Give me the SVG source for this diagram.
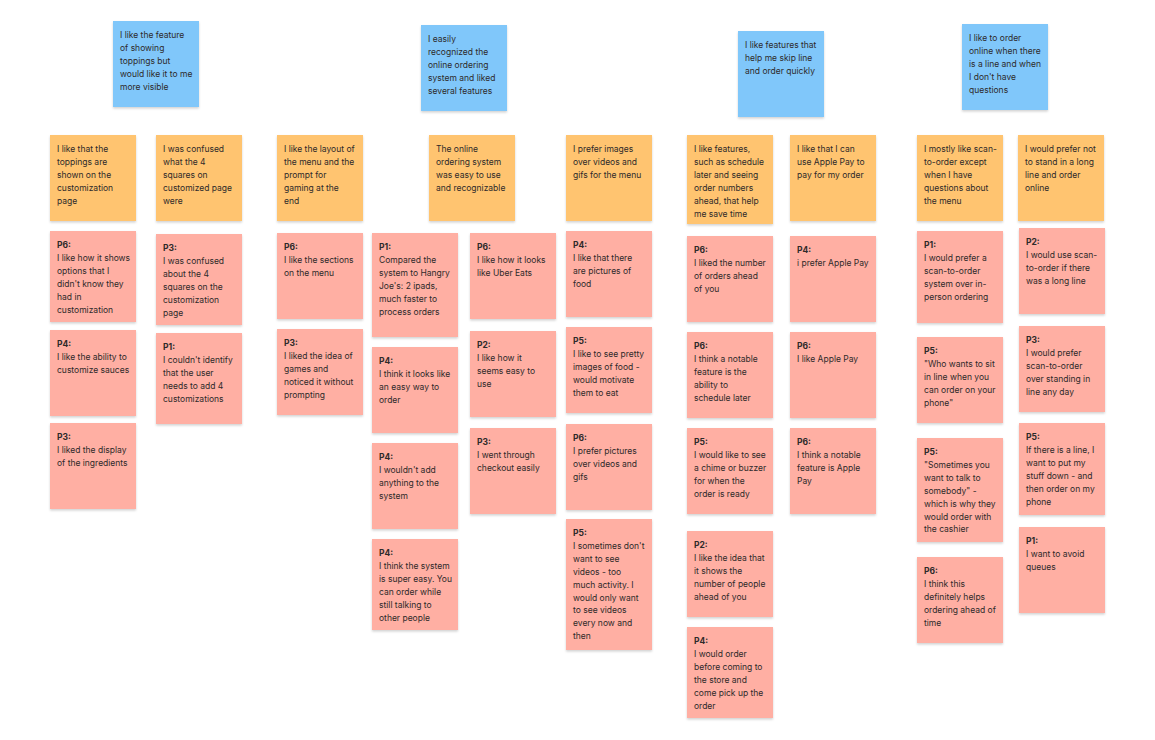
<svg xmlns="http://www.w3.org/2000/svg" width="1155" height="740" viewBox="0 0 1155 740">
<defs>
<filter id="sh" x="-10%" y="-10%" width="120%" height="125%">
<feDropShadow dx="0" dy="1.5" stdDeviation="1.2" flood-color="#000" flood-opacity="0.18"/>
</filter>
<style>
.n{filter:url(#sh)}
.blue{fill:#80C7FA}
.org{fill:#FFC470}
.pink{fill:#FFAFA3}
text{font-family:Inter,"Noto Sans","Liberation Sans",sans-serif;font-size:8.5px;fill:#2E2A2A}
.b{font-weight:700}
</style>
</defs>
<rect width="1155" height="740" fill="#FFFFFF"/>
<g id="connectors"></g>

<!-- Blue headers -->
<g id="b1"><rect class="n blue" x="113" y="21" width="86" height="86"/><text x="120" y="38"><tspan x="120">I like the feature</tspan><tspan x="120" dy="12.9">of showing</tspan><tspan x="120" dy="12.9">toppings but</tspan><tspan x="120" dy="12.9">would like it to me</tspan><tspan x="120" dy="12.9">more visible</tspan></text></g>
<g id="b2"><rect class="n blue" x="421" y="25" width="86" height="86"/><text x="428" y="42"><tspan x="428">I easily</tspan><tspan x="428" dy="12.9">recognized the</tspan><tspan x="428" dy="12.9">online ordering</tspan><tspan x="428" dy="12.9">system and liked</tspan><tspan x="428" dy="12.9">several features</tspan></text></g>
<g id="b3"><rect class="n blue" x="738" y="31" width="86" height="86"/><text x="745" y="48"><tspan x="745">I like features that</tspan><tspan x="745" dy="12.9">help me skip line</tspan><tspan x="745" dy="12.9">and order quickly</tspan></text></g>
<g id="b4"><rect class="n blue" x="962" y="24" width="86" height="86"/><text x="969" y="41"><tspan x="969">I like to order</tspan><tspan x="969" dy="12.9">online when there</tspan><tspan x="969" dy="12.9">is a line and when</tspan><tspan x="969" dy="12.9">I don't have</tspan><tspan x="969" dy="12.9">questions</tspan></text></g>

<!-- Orange row -->
<g id="o1"><rect class="n org" x="50" y="135" width="86" height="86"/><text y="152"><tspan x="57">I like that the</tspan><tspan x="57" dy="12.9">toppings are</tspan><tspan x="57" dy="12.9">shown on the</tspan><tspan x="57" dy="12.9">customization</tspan><tspan x="57" dy="12.9">page</tspan></text></g>
<g id="o2"><rect class="n org" x="156" y="135" width="86" height="86"/><text y="152"><tspan x="163">I was confused</tspan><tspan x="163" dy="12.9">what the 4</tspan><tspan x="163" dy="12.9">squares on</tspan><tspan x="163" dy="12.9">customized page</tspan><tspan x="163" dy="12.9">were</tspan></text></g>
<g id="o3"><rect class="n org" x="277" y="135" width="86" height="86"/><text y="152"><tspan x="284">I like the layout of</tspan><tspan x="284" dy="12.9">the menu and the</tspan><tspan x="284" dy="12.9">prompt for</tspan><tspan x="284" dy="12.9">gaming at the</tspan><tspan x="284" dy="12.9">end</tspan></text></g>
<g id="o4"><rect class="n org" x="429" y="135" width="86" height="86"/><text y="152"><tspan x="436">The online</tspan><tspan x="436" dy="12.9">ordering system</tspan><tspan x="436" dy="12.9">was easy to use</tspan><tspan x="436" dy="12.9">and recognizable</tspan></text></g>
<g id="o5"><rect class="n org" x="566" y="135" width="86" height="86"/><text y="152"><tspan x="573">I prefer images</tspan><tspan x="573" dy="12.9">over videos and</tspan><tspan x="573" dy="12.9">gifs for the menu</tspan></text></g>
<g id="o6"><rect class="n org" x="687" y="135" width="86" height="89"/><text y="152"><tspan x="694">I like features,</tspan><tspan x="694" dy="12.9">such as schedule</tspan><tspan x="694" dy="12.9">later and seeing</tspan><tspan x="694" dy="12.9">order numbers</tspan><tspan x="694" dy="12.9">ahead, that help</tspan><tspan x="694" dy="12.9">me save time</tspan></text></g>
<g id="o7"><rect class="n org" x="790" y="135" width="86" height="86"/><text y="152"><tspan x="797">I like that I can</tspan><tspan x="797" dy="12.9">use Apple Pay to</tspan><tspan x="797" dy="12.9">pay for my order</tspan></text></g>
<g id="o8"><rect class="n org" x="917" y="135" width="86" height="86"/><text y="152"><tspan x="924">I mostly like scan-</tspan><tspan x="924" dy="12.9">to-order except</tspan><tspan x="924" dy="12.9">when I have</tspan><tspan x="924" dy="12.9">questions about</tspan><tspan x="924" dy="12.9">the menu</tspan></text></g>
<g id="o9"><rect class="n org" x="1018" y="135" width="86" height="86"/><text y="152"><tspan x="1025">I would prefer not</tspan><tspan x="1025" dy="12.9">to stand in a long</tspan><tspan x="1025" dy="12.9">line and order</tspan><tspan x="1025" dy="12.9">online</tspan></text></g>

<!-- Column 1 -->
<g id="p1a"><rect class="n pink" x="50" y="231" width="86" height="91"/><text y="248"><tspan x="57" class="b">P6:</tspan><tspan x="57" dy="12.9">I like how it shows</tspan><tspan x="57" dy="12.9">options that I</tspan><tspan x="57" dy="12.9">didn't know they</tspan><tspan x="57" dy="12.9">had in</tspan><tspan x="57" dy="12.9">customization</tspan></text></g>
<g id="p1b"><rect class="n pink" x="50" y="330" width="86" height="86"/><text y="347"><tspan x="57" class="b">P4:</tspan><tspan x="57" dy="12.9">I like the ability to</tspan><tspan x="57" dy="12.9">customize sauces</tspan></text></g>
<g id="p1c"><rect class="n pink" x="50" y="423" width="86" height="86"/><text y="440"><tspan x="57" class="b">P3:</tspan><tspan x="57" dy="12.9">I liked the display</tspan><tspan x="57" dy="12.9">of the ingredients</tspan></text></g>

<!-- Column 2 -->
<g id="p2a"><rect class="n pink" x="156" y="234" width="86" height="91"/><text y="251"><tspan x="163" class="b">P3:</tspan><tspan x="163" dy="12.9">I was confused</tspan><tspan x="163" dy="12.9">about the 4</tspan><tspan x="163" dy="12.9">squares on the</tspan><tspan x="163" dy="12.9">customization</tspan><tspan x="163" dy="12.9">page</tspan></text></g>
<g id="p2b"><rect class="n pink" x="156" y="333" width="86" height="91"/><text y="350"><tspan x="163" class="b">P1:</tspan><tspan x="163" dy="12.9">I couldn't identify</tspan><tspan x="163" dy="12.9">that the user</tspan><tspan x="163" dy="12.9">needs to add 4</tspan><tspan x="163" dy="12.9">customizations</tspan></text></g>

<!-- Column 3 -->
<g id="p3a"><rect class="n pink" x="277" y="233" width="86" height="86"/><text y="250"><tspan x="284" class="b">P6:</tspan><tspan x="284" dy="12.9">I like the sections</tspan><tspan x="284" dy="12.9">on the menu</tspan></text></g>
<g id="p3b"><rect class="n pink" x="277" y="329" width="86" height="86"/><text y="346"><tspan x="284" class="b">P3:</tspan><tspan x="284" dy="12.9">I liked the idea of</tspan><tspan x="284" dy="12.9">games and</tspan><tspan x="284" dy="12.9">noticed it without</tspan><tspan x="284" dy="12.9">prompting</tspan></text></g>

<!-- Column 4 -->
<g id="p4a"><rect class="n pink" x="372" y="233" width="86" height="104"/><text y="250"><tspan x="379" class="b">P1:</tspan><tspan x="379" dy="12.9">Compared the</tspan><tspan x="379" dy="12.9">system to Hangry</tspan><tspan x="379" dy="12.9">Joe's: 2 ipads,</tspan><tspan x="379" dy="12.9">much faster to</tspan><tspan x="379" dy="12.9">process orders</tspan></text></g>
<g id="p4b"><rect class="n pink" x="372" y="347" width="86" height="86"/><text y="364"><tspan x="379" class="b">P4:</tspan><tspan x="379" dy="12.9">I think it looks like</tspan><tspan x="379" dy="12.9">an easy way to</tspan><tspan x="379" dy="12.9">order</tspan></text></g>
<g id="p4c"><rect class="n pink" x="372" y="443" width="86" height="86"/><text y="460"><tspan x="379" class="b">P4:</tspan><tspan x="379" dy="12.9">I wouldn't add</tspan><tspan x="379" dy="12.9">anything to the</tspan><tspan x="379" dy="12.9">system</tspan></text></g>
<g id="p4d"><rect class="n pink" x="372" y="539" width="86" height="91"/><text y="556"><tspan x="379" class="b">P4:</tspan><tspan x="379" dy="12.9">I think the system</tspan><tspan x="379" dy="12.9">is super easy. You</tspan><tspan x="379" dy="12.9">can order while</tspan><tspan x="379" dy="12.9">still talking to</tspan><tspan x="379" dy="12.9">other people</tspan></text></g>

<!-- Column 5 -->
<g id="p5a"><rect class="n pink" x="470" y="233" width="86" height="86"/><text y="250"><tspan x="477" class="b">P6:</tspan><tspan x="477" dy="12.9">I like how it looks</tspan><tspan x="477" dy="12.9">like Uber Eats</tspan></text></g>
<g id="p5b"><rect class="n pink" x="470" y="331" width="86" height="86"/><text y="348"><tspan x="477" class="b">P2:</tspan><tspan x="477" dy="12.9">I like how it</tspan><tspan x="477" dy="12.9">seems easy to</tspan><tspan x="477" dy="12.9">use</tspan></text></g>
<g id="p5c"><rect class="n pink" x="470" y="428" width="86" height="86"/><text y="445"><tspan x="477" class="b">P3:</tspan><tspan x="477" dy="12.9">I went through</tspan><tspan x="477" dy="12.9">checkout easily</tspan></text></g>

<!-- Column 6 -->
<g id="p6a"><rect class="n pink" x="566" y="231" width="86" height="86"/><text y="248"><tspan x="573" class="b">P4:</tspan><tspan x="573" dy="12.9">I like that there</tspan><tspan x="573" dy="12.9">are pictures of</tspan><tspan x="573" dy="12.9">food</tspan></text></g>
<g id="p6b"><rect class="n pink" x="566" y="327" width="86" height="86"/><text y="344"><tspan x="573" class="b">P5:</tspan><tspan x="573" dy="12.9">I like to see pretty</tspan><tspan x="573" dy="12.9">images of food -</tspan><tspan x="573" dy="12.9">would motivate</tspan><tspan x="573" dy="12.9">them to eat</tspan></text></g>
<g id="p6c"><rect class="n pink" x="566" y="424" width="86" height="86"/><text y="441"><tspan x="573" class="b">P6:</tspan><tspan x="573" dy="12.9">I prefer pictures</tspan><tspan x="573" dy="12.9">over videos and</tspan><tspan x="573" dy="12.9">gifs</tspan></text></g>
<g id="p6d"><rect class="n pink" x="566" y="519" width="86" height="131"/><text y="536"><tspan x="573" class="b">P5:</tspan><tspan x="573" dy="12.9">I sometimes don't</tspan><tspan x="573" dy="12.9">want to see</tspan><tspan x="573" dy="12.9">videos - too</tspan><tspan x="573" dy="12.9">much activity. I</tspan><tspan x="573" dy="12.9">would only want</tspan><tspan x="573" dy="12.9">to see videos</tspan><tspan x="573" dy="12.9">every now and</tspan><tspan x="573" dy="12.9">then</tspan></text></g>

<!-- Column 7 -->
<g id="p7a"><rect class="n pink" x="687" y="236" width="86" height="86"/><text y="253"><tspan x="694" class="b">P6:</tspan><tspan x="694" dy="12.9">I liked the number</tspan><tspan x="694" dy="12.9">of orders ahead</tspan><tspan x="694" dy="12.9">of you</tspan></text></g>
<g id="p7b"><rect class="n pink" x="687" y="332" width="86" height="86"/><text y="349"><tspan x="694" class="b">P6:</tspan><tspan x="694" dy="12.9">I think a notable</tspan><tspan x="694" dy="12.9">feature is the</tspan><tspan x="694" dy="12.9">ability to</tspan><tspan x="694" dy="12.9">schedule later</tspan></text></g>
<g id="p7c"><rect class="n pink" x="687" y="428" width="86" height="86"/><text y="445"><tspan x="694" class="b">P5:</tspan><tspan x="694" dy="12.9">I would like to see</tspan><tspan x="694" dy="12.9">a chime or buzzer</tspan><tspan x="694" dy="12.9">for when the</tspan><tspan x="694" dy="12.9">order is ready</tspan></text></g>
<g id="p7d"><rect class="n pink" x="687" y="531" width="86" height="86"/><text y="548"><tspan x="694" class="b">P2:</tspan><tspan x="694" dy="12.9">I like the idea that</tspan><tspan x="694" dy="12.9">it shows the</tspan><tspan x="694" dy="12.9">number of people</tspan><tspan x="694" dy="12.9">ahead of you</tspan></text></g>
<g id="p7e"><rect class="n pink" x="687" y="627" width="86" height="91"/><text y="644"><tspan x="694" class="b">P4:</tspan><tspan x="694" dy="12.9">I would order</tspan><tspan x="694" dy="12.9">before coming to</tspan><tspan x="694" dy="12.9">the store and</tspan><tspan x="694" dy="12.9">come pick up the</tspan><tspan x="694" dy="12.9">order</tspan></text></g>

<!-- Column 8 -->
<g id="p8a"><rect class="n pink" x="790" y="236" width="86" height="86"/><text y="253"><tspan x="797" class="b">P4:</tspan><tspan x="797" dy="12.9">i prefer Apple Pay</tspan></text></g>
<g id="p8b"><rect class="n pink" x="790" y="332" width="86" height="86"/><text y="349"><tspan x="797" class="b">P6:</tspan><tspan x="797" dy="12.9">I like Apple Pay</tspan></text></g>
<g id="p8c"><rect class="n pink" x="790" y="428" width="86" height="86"/><text y="445"><tspan x="797" class="b">P6:</tspan><tspan x="797" dy="12.9">I think a notable</tspan><tspan x="797" dy="12.9">feature is Apple</tspan><tspan x="797" dy="12.9">Pay</tspan></text></g>

<!-- Column 9 -->
<g id="p9a"><rect class="n pink" x="917" y="231" width="86" height="92"/><text y="248"><tspan x="924" class="b">P1:</tspan><tspan x="924" dy="12.9">I would prefer a</tspan><tspan x="924" dy="12.9">scan-to-order</tspan><tspan x="924" dy="12.9">system over in-</tspan><tspan x="924" dy="12.9">person ordering</tspan></text></g>
<g id="p9b"><rect class="n pink" x="917" y="337" width="86" height="86"/><text y="354"><tspan x="924" class="b">P5:</tspan><tspan x="924" dy="12.9">"Who wants to sit</tspan><tspan x="924" dy="12.9">in line when you</tspan><tspan x="924" dy="12.9">can order on your</tspan><tspan x="924" dy="12.9">phone"</tspan></text></g>
<g id="p9c"><rect class="n pink" x="917" y="438" width="86" height="104"/><text y="455"><tspan x="924" class="b">P5:</tspan><tspan x="924" dy="12.9">"Sometimes you</tspan><tspan x="924" dy="12.9">want to talk to</tspan><tspan x="924" dy="12.9">somebody" -</tspan><tspan x="924" dy="12.9">which is why they</tspan><tspan x="924" dy="12.9">would order with</tspan><tspan x="924" dy="12.9">the cashier</tspan></text></g>
<g id="p9d"><rect class="n pink" x="917" y="557" width="86" height="86"/><text y="574"><tspan x="924" class="b">P6:</tspan><tspan x="924" dy="12.9">I think this</tspan><tspan x="924" dy="12.9">definitely helps</tspan><tspan x="924" dy="12.9">ordering ahead of</tspan><tspan x="924" dy="12.9">time</tspan></text></g>

<!-- Column 10 -->
<g id="p10a"><rect class="n pink" x="1019" y="228" width="86" height="86"/><text y="245"><tspan x="1026" class="b">P2:</tspan><tspan x="1026" dy="12.9">I would use scan-</tspan><tspan x="1026" dy="12.9">to-order if there</tspan><tspan x="1026" dy="12.9">was a long line</tspan></text></g>
<g id="p10b"><rect class="n pink" x="1019" y="326" width="86" height="86"/><text y="343"><tspan x="1026" class="b">P3:</tspan><tspan x="1026" dy="12.9">I would prefer</tspan><tspan x="1026" dy="12.9">scan-to-order</tspan><tspan x="1026" dy="12.9">over standing in</tspan><tspan x="1026" dy="12.9">line any day</tspan></text></g>
<g id="p10c"><rect class="n pink" x="1019" y="423" width="86" height="92"/><text y="440"><tspan x="1026" class="b">P5:</tspan><tspan x="1026" dy="12.9">If there is a line, I</tspan><tspan x="1026" dy="12.9">want to put my</tspan><tspan x="1026" dy="12.9">stuff down - and</tspan><tspan x="1026" dy="12.9">then order on my</tspan><tspan x="1026" dy="12.9">phone</tspan></text></g>
<g id="p10d"><rect class="n pink" x="1019" y="527" width="86" height="86"/><text y="544"><tspan x="1026" class="b">P1:</tspan><tspan x="1026" dy="12.9">I want to avoid</tspan><tspan x="1026" dy="12.9">queues</tspan></text></g>
</svg>
